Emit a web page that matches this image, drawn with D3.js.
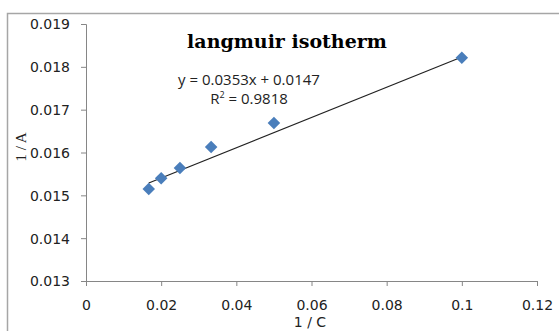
<!DOCTYPE html>
<html>
<head>
<meta charset="utf-8">
<script src="https://cdn.jsdelivr.net/npm/d3@7"></script>
<style>
  body { margin: 0; background: #fff; }
  svg { display: block; }
</style>
</head>
<body>
<svg id="chart"></svg>
<script>
// 1/C vs 1/A readings
const invC = [0.0167, 0.02, 0.025, 0.0333, 0.05, 0.1];
const invA = [0.01515, 0.0154, 0.01564, 0.01613, 0.01669, 0.01821];
const xTicks = [0, 0.02, 0.04, 0.06, 0.08, 0.1, 0.12];
const yTicks = [0.013, 0.014, 0.015, 0.016, 0.017, 0.018, 0.019];
const slope = 0.0353, intercept = 0.0147, r2 = 0.9818;

const W = 559, H = 331;
const svg = d3.select("#chart").attr("width", W).attr("height", H);

// outer chart border (runs off the right / bottom edge)
svg.append("path")
   .attr("d", `M7.5,${H} V13.5 H${W}`)
   .attr("fill", "none")
   .attr("stroke", "#a6a6a6")
   .attr("stroke-width", 1.5);

const x = d3.scaleLinear().domain([0, 0.12]).range([86, 537]);
const y = d3.scaleLinear().domain([0.013, 0.019]).range([281, 24]);

const fmt = d => d === 0 ? "0" : String(+d.toFixed(3));

const xAxis = svg.append("g")
   .attr("transform", "translate(0,281)")
   .call(d3.axisBottom(x).tickValues(xTicks).tickFormat(fmt).tickSize(5).tickPadding(14));
const yAxis = svg.append("g")
   .attr("transform", "translate(86,0)")
   .call(d3.axisLeft(y).tickValues(yTicks).tickFormat(fmt).tickSize(5).tickPadding(11));

[xAxis, yAxis].forEach(g => {
  g.select(".domain").attr("stroke", "#868686");
  g.selectAll(".tick line").attr("stroke", "#868686");
  g.selectAll("text")
   .attr("fill", "#222")
   .style("font-family", "'DejaVu Sans', Verdana, sans-serif")
   .style("font-size", "14px");
});
yAxis.selectAll("text").attr("dy", "0.35em");

// trendline
const x0 = d3.min(invC), x1 = d3.max(invC);
svg.append("line")
   .attr("x1", x(x0)).attr("y1", y(slope * x0 + intercept))
   .attr("x2", x(x1)).attr("y2", y(slope * x1 + intercept))
   .attr("stroke", "#222")
   .attr("stroke-width", 1.2);

// points
svg.selectAll(".pt")
   .data(invC.map((c, i) => [c, invA[i]]))
   .enter()
   .append("path")
   .attr("class", "pt")
   .attr("d", d3.symbol(d3.symbolDiamond2, 100))
   .attr("transform", d => `translate(${x(d[0])},${y(d[1])})`)
   .attr("fill", "#4a7ebb");

// title
svg.append("text")
   .attr("x", 287).attr("y", 48)
   .attr("text-anchor", "middle")
   .style("font-family", "'DejaVu Serif', serif")
   .style("font-weight", "bold")
   .style("font-size", "19px")
   .text("langmuir isotherm");

// equation label
const eq = svg.append("g")
   .style("font-family", "'Open Sans', 'Liberation Sans', sans-serif")
   .style("font-size", "15px")
   .attr("fill", "#222");
eq.append("text").attr("x", 249).attr("y", 85).attr("text-anchor", "middle")
   .text(`y = ${slope}x + ${intercept}`);
const r = eq.append("text").attr("x", 249).attr("y", 104).attr("text-anchor", "middle");
r.append("tspan").text("R");
r.append("tspan").attr("dy", -6).style("font-size", "9px").text("2");
r.append("tspan").attr("dy", 6).text(` = ${r2}`);

// axis titles
svg.append("text")
   .attr("x", 310).attr("y", 327)
   .attr("text-anchor", "middle")
   .style("font-family", "'DejaVu Sans', sans-serif")
   .style("font-size", "14px")
   .attr("fill", "#222")
   .text("1 / C");
svg.append("text")
   .attr("transform", "translate(26,147) rotate(-90)")
   .attr("text-anchor", "middle")
   .style("font-family", "'Liberation Serif', serif")
   .style("font-size", "15px")
   .attr("fill", "#222")
   .text("1 / A");
</script>
</body>
</html>
